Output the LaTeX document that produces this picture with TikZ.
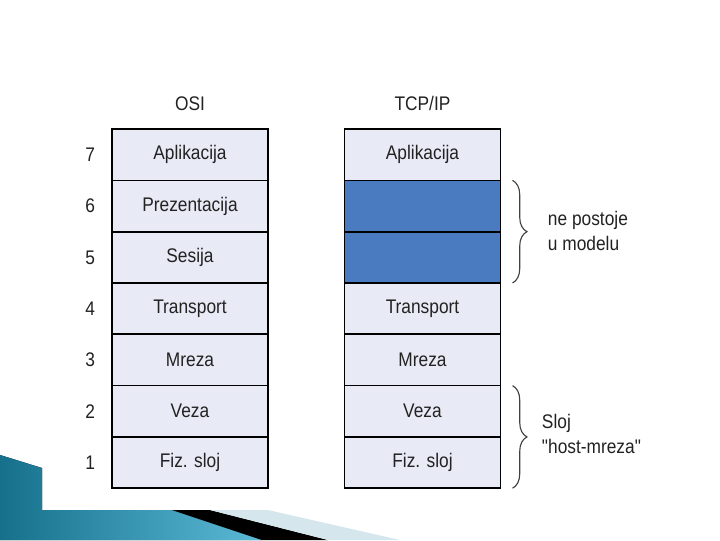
\documentclass[tikz,border=0pt]{standalone}
\usepackage{fontspec}
\setmainfont{Liberation Sans}[FakeStretch=0.88]
\newfontfamily\plainfont{Liberation Sans}[FakeStretch=0.88]
\usetikzlibrary{positioning, calc, decorations.pathreplacing}
\definecolor{layerFill}{HTML}{E8EBF6}
\definecolor{missBlue}{HTML}{4A7BC1}
\definecolor{textDark}{HTML}{222222}
\definecolor{tealDark}{HTML}{16708C}
\definecolor{tealLight}{HTML}{5BBAD6}
\definecolor{paleBlue}{HTML}{D5E6EC}

\begin{document}
\begin{tikzpicture}[x=0.025cm, y=-0.025cm,
    layer/.style={rectangle, draw=black, line width=1.2pt, fill=layerFill,
                  minimum width=3.9cm, minimum height=1.2825cm, outer sep=0pt,
                  inner sep=0pt, font=\fontsize{14}{16}\selectfont\color{textDark}},
    miss/.style={layer, fill=missBlue},
    num/.style={font=\fontsize{14}{16}\selectfont\color{textDark}, left=0.3cm of #1},
    head/.style={font=\fontsize{14}{16}\selectfont\color{textDark}, above=0.34cm of #1},
    side/.style={font=\fontsize{14}{18.4}\selectfont\color{textDark}, align=left, anchor=west},
    brace/.style={decorate, decoration={brace, amplitude=0.36cm}, line width=0.8pt,
                  draw=black!75},
  ]
    \useasboundingbox (0,0) rectangle (720,540);

    % decoration, bottom left
    \fill[left color=tealDark, right color=tealLight]
      (0,455) -- (42,468) -- (42,510) -- (172,510) -- (262,540) -- (0,540) -- cycle;
    \fill[black] (172,510) -- (210,510) -- (328,540) -- (262,540) -- cycle;
    \fill[paleBlue] (210,510) -- (268,510) -- (400,540) -- (328,540) -- cycle;

    % OSI
    \node[layer] (o7) at (190,154.7) {Aplikacija};
    \node[layer, below=0pt of o7] (o6) {Prezentacija};
    \node[layer, below=0pt of o6] (o5) {Sesija};
    \node[layer, below=0pt of o5] (o4) {Transport};
    \node[layer, below=0pt of o4] (o3) {Mreza};
    \node[layer, below=0pt of o3] (o2) {Veza};
    \node[layer, below=0pt of o2] (o1) {Fiz. sloj};
    \node[head=o7] (osi) {OSI};
    \foreach \i in {1,...,7}
      \node[num=o\i] (n\i) {\i};

    % TCP/IP
    \node[layer] (t7) at (422.5,154.7) {Aplikacija};
    \node[miss, below=0pt of t7] (t6) {};
    \node[miss, below=0pt of t6] (t5) {};
    \node[layer, below=0pt of t5] (t4) {Transport};
    \node[layer, below=0pt of t4] (t3) {Mreza};
    \node[layer, below=0pt of t3] (t2) {Veza};
    \node[layer, below=0pt of t2] (t1) {Fiz. sloj};
    \node[head=t7] (tcp) {TCP/IP};

    % braces
    \draw[brace] ($(t6.north east)+(12,0)$) -- ($(t5.south east)+(12,0)$);
    \node[side] (nema) at (543,231) {ne postoje\\u modelu};
    \draw[brace] ($(t2.north east)+(12,0)$) -- ($(t1.south east)+(12,0)$);
    \node[side] (host) at (537,434) {Sloj\\{\plainfont "host-mreza"}};
  \end{tikzpicture}
\end{document}
